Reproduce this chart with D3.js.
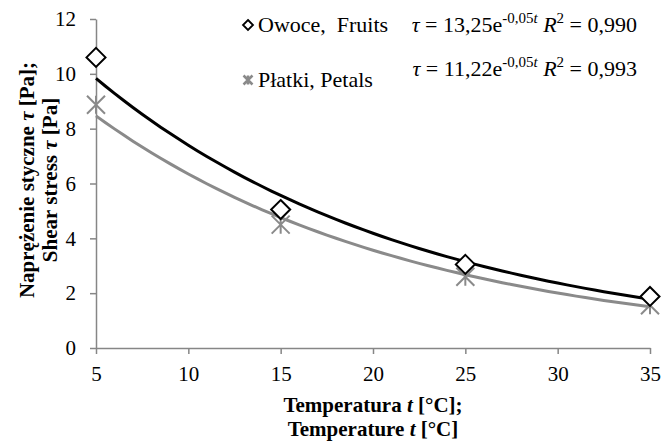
<!DOCTYPE html>
<html>
<head>
<meta charset="utf-8">
<script src="https://cdn.jsdelivr.net/npm/d3@7"></script>
<style>
  body { margin: 0; background: #fff; }
  svg text { font-family: "Liberation Serif", "DejaVu Serif", serif; }
</style>
</head>
<body>
<svg width="662" height="441"></svg>
<script>
const temps = [5, 15, 25, 35];
const fruits = [10.6, 5.05, 3.05, 1.88];
const petals = [8.87, 4.5, 2.6, 1.56];
const xTicks = [5, 10, 15, 20, 25, 30, 35];
const yTicks = [0, 2, 4, 6, 8, 10, 12];

const svg = d3.select("svg");
const plotLeft = 96, plotRight = 650, plotTop = 19, plotBottom = 348;

const x = d3.scaleLinear().domain([5, 35]).range([plotLeft, plotRight]);
const y = d3.scaleLinear().domain([0, 12]).range([plotBottom, plotTop]);

const axisColor = "#868686";
const grey = "#8a8a8a";

// exponential fit, like the spreadsheet trendline
function expFit(xs, ys) {
  const ly = ys.map(Math.log);
  const mx = d3.mean(xs), my = d3.mean(ly);
  const b = d3.sum(xs, (v, i) => (v - mx) * (ly[i] - my)) / d3.sum(xs, v => (v - mx) ** 2);
  const a = Math.exp(my - b * mx);
  return t => a * Math.exp(b * t);
}

const yAxis = svg.append("g")
  .attr("transform", `translate(${plotLeft},0)`)
  .call(d3.axisLeft(y).tickValues(yTicks).tickSize(6).tickPadding(14).tickSizeOuter(0));
const xAxis = svg.append("g")
  .attr("transform", `translate(0,${plotBottom})`)
  .call(d3.axisBottom(x).tickValues(xTicks).tickSize(6).tickPadding(12).tickSizeOuter(0));

[xAxis, yAxis].forEach(g => {
  g.select(".domain").attr("stroke", axisColor).attr("stroke-width", 1.5);
  g.selectAll(".tick line").attr("stroke", axisColor).attr("stroke-width", 1.5);
  g.selectAll(".tick text").attr("fill", "#000").style("font-size", "21px")
    .style("font-family", "Liberation Serif");
});

// trendlines
const tSamples = d3.range(5, 35.01, 0.5);
[[fruits, "#000"], [petals, grey]].forEach(([vals, col]) => {
  const f = expFit(temps, vals);
  svg.append("path")
    .datum(tSamples)
    .attr("fill", "none")
    .attr("stroke", col)
    .attr("stroke-width", 3)
    .attr("d", d3.line().x(d => x(d)).y(d => y(f(d))));
});

// markers
function diamond(g, cx, cy, r, w) {
  g.append("path")
    .attr("d", `M${cx},${cy - r}L${cx + r},${cy}L${cx},${cy + r}L${cx - r},${cy}Z`)
    .attr("fill", "#fff").attr("stroke", "#000").attr("stroke-width", w);
}
function star(g, cx, cy, r, w) {
  g.append("path")
    .attr("d", `M${cx - r},${cy - r}L${cx + r},${cy + r}M${cx - r},${cy + r}L${cx + r},${cy - r}M${cx},${cy - r}L${cx},${cy + r}`)
    .attr("stroke", grey).attr("stroke-width", w).attr("fill", "none");
}

temps.forEach((t, i) => star(svg, x(t), y(petals[i]), 9, 2));
temps.forEach((t, i) => diamond(svg, x(t), y(fruits[i]), 9.5, 2));

// legend
const legend = svg.append("g");
diamond(legend, 248, 25, 5, 1.8);
legend.append("text").attr("x", 258).attr("y", 32).style("font-size", "22px")
  .attr("xml:space", "preserve").text("Owoce,  Fruits");
star(legend, 248, 80, 4.5, 2.5);
legend.append("text").attr("x", 258).attr("y", 87).style("font-size", "22px").text("Płatki, Petals");

// equations
const eqs = [
  { y: 32, a: "13,25", r: "0,990" },
  { y: 76, a: "11,22", r: "0,993" }
];
eqs.forEach(e => {
  const t = svg.append("text").attr("x", 637).attr("y", e.y)
    .attr("text-anchor", "end").style("font-size", "22px");
  t.append("tspan").style("font-style", "italic").text("τ");
  t.append("tspan").text(` = ${e.a}e`);
  t.append("tspan").attr("dy", -9).style("font-size", "15px").text("-0,05");
  t.append("tspan").style("font-size", "15px").style("font-style", "italic").text("t");
  t.append("tspan").attr("dy", 9).text(" ");
  t.append("tspan").style("font-style", "italic").text("R");
  t.append("tspan").attr("dy", -9).style("font-size", "15px").text("2");
  t.append("tspan").attr("dy", 9).text(" = " + e.r);
});

// axis titles
const xTitle = ["Temperatura ", "Temperature "];
xTitle.forEach((s, i) => {
  const t = svg.append("text")
    .attr("x", (plotLeft + plotRight) / 2).attr("y", 412 + i * 24)
    .attr("text-anchor", "middle")
    .style("font-size", "21px").style("font-weight", "bold");
  t.append("tspan").text(s);
  t.append("tspan").style("font-style", "italic").text("t");
  t.append("tspan").text(i === 0 ? " [°C];" : " [°C]");
});

const yTitle = [["Naprężenie styczne ", " [Pa];"], ["Shear stress ", " [Pa]"]];
yTitle.forEach((s, i) => {
  const t = svg.append("text")
    .attr("transform", `translate(${34 + i * 23},180) rotate(-90)`)
    .attr("text-anchor", "middle")
    .style("font-size", "21px").style("font-weight", "bold");
  t.append("tspan").text(s[0]);
  t.append("tspan").style("font-style", "italic").text("τ");
  t.append("tspan").text(s[1]);
});
</script>
</body>
</html>
